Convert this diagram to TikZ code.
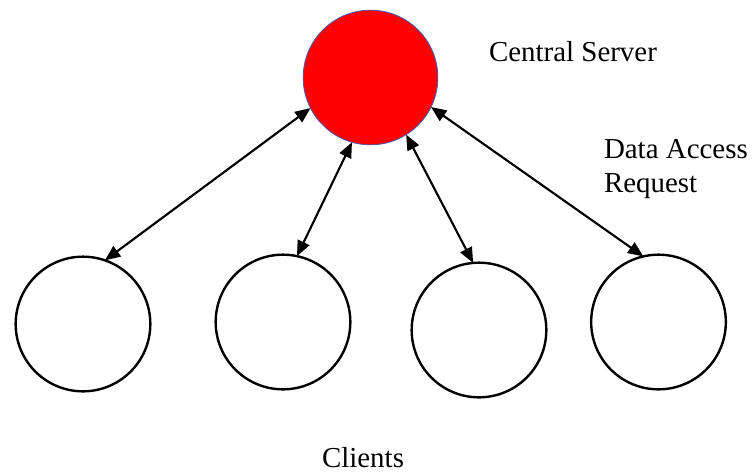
\documentclass[tikz,border=0pt]{standalone}
\usepackage{fontspec}
\setmainfont{Liberation Serif}
\usetikzlibrary{arrows.meta}
\begin{document}
\begin{tikzpicture}[x=0.75pt,y=-0.75pt,
  server/.style={circle,draw={rgb,255:red,68;green,90;blue,170},line width=0.6pt,
    fill={rgb,255:red,255;green,0;blue,0},minimum size=101pt,inner sep=0pt,outer sep=0pt},
  client/.style={circle,draw=black,line width=1.8pt,minimum size=101pt,inner sep=0pt,outer sep=0pt},
  link/.style={{Triangle[length=11.5pt,width=9.5pt]}-{Triangle[length=11.5pt,width=9.5pt]},line width=1.6pt},
  txt/.style={font=\fontsize{21.7}{25.3}\selectfont,inner sep=0pt,outer sep=0pt}]
\useasboundingbox (0,0) rectangle (752,472);

% central server and the four clients
\node[server] (server) at (370.5,77.5) {};
\node[client] (c1) at (83,324) {};
\node[client] (c2) at (283,322) {};
\node[client] (c3) at (479,330) {};
\node[client] (c4) at (658.5,322) {};

% two-way data links
\draw[link] (server.207.6) -- (c1.71);
\draw[link] (server.254.3) -- (c2.78.3);
\draw[link] (server.302.6) -- (c3.95.3);
\draw[link] (server.334.8) -- (c4.103.2);

% captions
\node[txt,anchor=base west] (srvlbl) at (489,61.7) {Central Server};
\node[txt,anchor=base west] (reqlbl1) at (604,158.3) {Data Access};
\node[txt,anchor=base west] (reqlbl2) at (604,192) {Request};
\node[txt,anchor=base] (clientlbl) at (363,467) {Clients};
\end{tikzpicture}
\end{document}
